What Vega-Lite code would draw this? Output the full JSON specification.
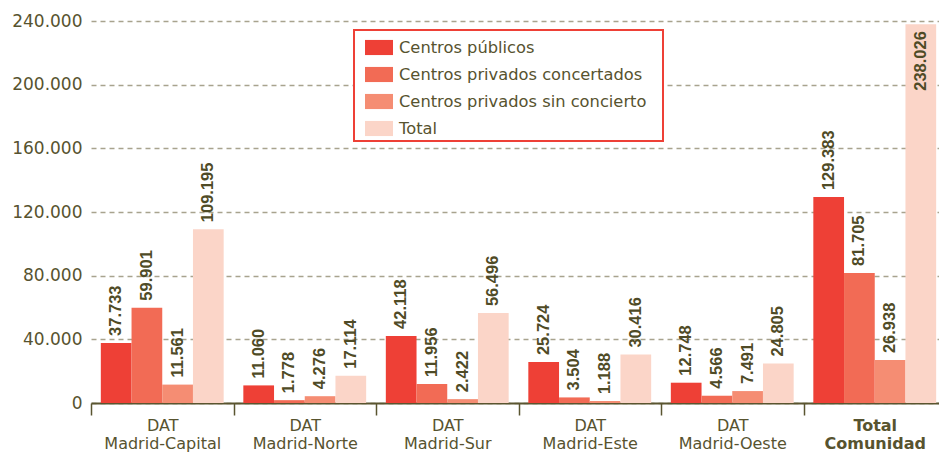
{
  "$schema": "https://vega.github.io/schema/vega-lite/v6.json",
  "width": 848,
  "height": 382,
  "autosize": {"type": "none"},
  "padding": {"left": 91, "top": 21, "right": 0, "bottom": 51},
  "background": "white",
  "config": {"view": {"stroke": null}},
  "data": {
    "values": [
      {"grupo": "DAT Madrid-Capital", "serie": "Centros públicos", "valor": 37733},
      {"grupo": "DAT Madrid-Capital", "serie": "Centros privados concertados", "valor": 59901},
      {"grupo": "DAT Madrid-Capital", "serie": "Centros privados sin concierto", "valor": 11561},
      {"grupo": "DAT Madrid-Capital", "serie": "Total", "valor": 109195},
      {"grupo": "DAT Madrid-Norte", "serie": "Centros públicos", "valor": 11060},
      {"grupo": "DAT Madrid-Norte", "serie": "Centros privados concertados", "valor": 1778},
      {"grupo": "DAT Madrid-Norte", "serie": "Centros privados sin concierto", "valor": 4276},
      {"grupo": "DAT Madrid-Norte", "serie": "Total", "valor": 17114},
      {"grupo": "DAT Madrid-Sur", "serie": "Centros públicos", "valor": 42118},
      {"grupo": "DAT Madrid-Sur", "serie": "Centros privados concertados", "valor": 11956},
      {"grupo": "DAT Madrid-Sur", "serie": "Centros privados sin concierto", "valor": 2422},
      {"grupo": "DAT Madrid-Sur", "serie": "Total", "valor": 56496},
      {"grupo": "DAT Madrid-Este", "serie": "Centros públicos", "valor": 25724},
      {"grupo": "DAT Madrid-Este", "serie": "Centros privados concertados", "valor": 3504},
      {"grupo": "DAT Madrid-Este", "serie": "Centros privados sin concierto", "valor": 1188},
      {"grupo": "DAT Madrid-Este", "serie": "Total", "valor": 30416},
      {"grupo": "DAT Madrid-Oeste", "serie": "Centros públicos", "valor": 12748},
      {"grupo": "DAT Madrid-Oeste", "serie": "Centros privados concertados", "valor": 4566},
      {"grupo": "DAT Madrid-Oeste", "serie": "Centros privados sin concierto", "valor": 7491},
      {"grupo": "DAT Madrid-Oeste", "serie": "Total", "valor": 24805},
      {"grupo": "Total Comunidad", "serie": "Centros públicos", "valor": 129383},
      {"grupo": "Total Comunidad", "serie": "Centros privados concertados", "valor": 81705},
      {"grupo": "Total Comunidad", "serie": "Centros privados sin concierto", "valor": 26938},
      {"grupo": "Total Comunidad", "serie": "Total", "valor": 238026}
    ]
  },
  "transform": [
    {"calculate": "replace(format(datum.valor, ','), ',', '.')", "as": "etiqueta"}
  ],
  "encoding": {
    "x": {
      "field": "grupo",
      "type": "nominal",
      "sort": ["DAT Madrid-Capital", "DAT Madrid-Norte", "DAT Madrid-Sur", "DAT Madrid-Este", "DAT Madrid-Oeste", "Total Comunidad"],
      "title": null,
      "scale": {"range": [0, 855], "paddingInner": 0, "paddingOuter": 0},
      "axis": {
        "labelExpr": "isValid(datum.value) ? split(datum.value, ' ') : ''",
        "labelAngle": 0,
        "labelBaseline": "top",
        "labelFont": "DejaVu Sans",
        "labelFontSize": 16,
        "labelLineHeight": 18,
        "labelColor": "#57532f",
        "labelFontWeight": {"condition": {"test": "datum.value === 'Total Comunidad'", "value": "bold"}, "value": "normal"},
        "labelPadding": 2,
        "tickBand": "extent",
        "tickSize": 12,
        "tickWidth": 1.5,
        "tickColor": "#5a5530",
        "domainColor": "#5a5530",
        "domainWidth": 2,
        "grid": false
      }
    },
    "xOffset": {
      "field": "serie",
      "sort": ["Centros públicos", "Centros privados concertados", "Centros privados sin concierto", "Total"],
      "scale": {"paddingInner": 0, "paddingOuter": 0.32}
    },
    "y": {
      "field": "valor",
      "type": "quantitative",
      "title": null,
      "scale": {"domain": [0, 240000], "nice": false},
      "axis": {
        "values": [0, 40000, 80000, 120000, 160000, 200000, 240000],
        "labelExpr": "replace(format(datum.value, ','), ',', '.')",
        "domain": false,
        "ticks": false,
        "labelPadding": 9,
        "labelFont": "DejaVu Sans",
        "labelFontSize": 17,
        "labelColor": "#57532f",
        "gridDash": [5, 4],
        "gridColor": "#a8a38e",
        "gridWidth": 1.3
      }
    }
  },
  "layer": [
    {
      "mark": {"type": "bar"},
      "encoding": {
        "color": {
          "field": "serie",
          "type": "nominal",
          "sort": ["Centros públicos", "Centros privados concertados", "Centros privados sin concierto", "Total"],
          "scale": {
            "domain": ["Centros públicos", "Centros privados concertados", "Centros privados sin concierto", "Total"],
            "range": ["#ee4036", "#f26b55", "#f58d73", "#fbd5c8"]
          },
          "legend": {
            "title": "\u00a0",
            "titleOrient": "right",
            "titleFontSize": 22,
            "titlePadding": 13,
            "orient": "none",
            "legendX": 263,
            "legendY": 9,
            "strokeColor": "#ee4036",
            "fillColor": "white",
            "padding": 3.5,
            "symbolOffset": 7.5,
            "symbolType": "M-1,-0.54H1V0.54H-1Z",
            "symbolSize": 784,
            "symbolStrokeWidth": 0,
            "symbolOpacity": 1,
            "labelFont": "DejaVu Sans",
            "labelFontSize": 16.3,
            "labelColor": "#57532f",
            "labelOffset": 6,
            "labelLimit": 400,
            "rowPadding": 4,
            "encode": {"legend": {"update": {"strokeWidth": {"value": 2}}}}
          }
        }
      }
    },
    {
      "transform": [{"filter": "datum.valor < 200000"}],
      "mark": {"type": "text", "angle": 270, "align": "left", "baseline": "middle", "dx": 7, "font": "Liberation Sans", "fontWeight": "bold", "fontSize": 16.5, "color": "#4f4b26"},
      "encoding": {"text": {"field": "etiqueta"}}
    },
    {
      "transform": [{"filter": "datum.valor >= 200000"}],
      "mark": {"type": "text", "angle": 270, "align": "right", "baseline": "middle", "dx": -7, "font": "Liberation Sans", "fontWeight": "bold", "fontSize": 16.5, "color": "#4f4b26"},
      "encoding": {"text": {"field": "etiqueta"}}
    }
  ]
}
